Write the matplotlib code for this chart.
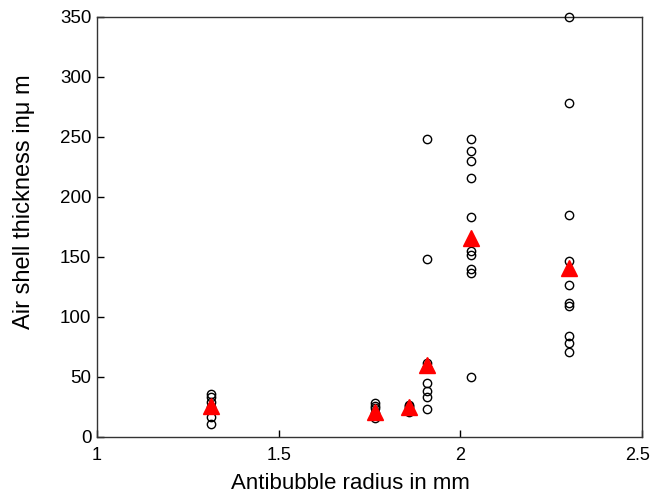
import matplotlib
matplotlib.use('Agg')
from matplotlib import pyplot as plt
from matplotlib import transforms

plt.rcParams['font.family'] = ['Liberation Sans', 'DejaVu Sans']

# radius of each antibubble group (mm)
radius = [1.315, 1.766, 1.858, 1.908, 2.030, 2.30]

# individual thickness measurements per group (um)
thick_132 = [36, 33, 29, 25, 17, 11]
thick_178 = [28, 26, 24, 20, 18, 16]
thick_187 = [27, 26, 24, 22, 21]
thick_1915 = [248, 148, 62, 58, 45, 38, 33, 23]
thick_2045 = [248, 238, 230, 216, 183, 155, 152, 140, 137, 50]
thick_232 = [350, 278, 185, 147, 127, 112, 109, 84, 78, 71]
groups = [thick_132, thick_178, thick_187, thick_1915, thick_2045, thick_232]

# average per group (red triangles)
avg_thick = [26, 21, 25, 60, 166, 141]

fig = plt.figure(figsize=(6.53, 4.98), dpi=100)
ax = fig.add_axes([0.1485, 0.1225, 0.8345, 0.8435])

for r, vals in zip(radius, groups):
    ax.plot([r] * len(vals), vals, linestyle='none', marker='o', markersize=6,
            markerfacecolor='none', markeredgecolor='black', markeredgewidth=1,
            clip_on=False, zorder=3)

ax.plot(radius, avg_thick, linestyle='none', marker='^', markersize=11,
        color='red', markeredgecolor='red', zorder=4)

ax.set_xlim(1, 2.5)
ax.set_ylim(0, 350)
ax.set_xticks([1, 1.5, 2, 2.5])
ax.set_xticklabels(['1', '1.5', '2', '2.5'])
ax.set_yticks(range(0, 351, 50))
ax.tick_params(direction='in', labelsize=13.5, length=5, width=1, top=False, right=False)
ax.tick_params(axis='x', pad=7, labelsize=13)
ax.tick_params(axis='y', pad=4)
for s in ax.spines.values():
    s.set_linewidth(1)
    s.set_color('#333333')

# keep the last x tick label inside the figure
last = ax.get_xticklabels()[-1]
last.set_transform(last.get_transform() + transforms.ScaledTranslation(-4 / 100, 0, fig.dpi_scale_trans))

ax.set_xlabel('Antibubble radius in mm', fontsize=16)
ax.set_ylabel('Air shell thickness inμ m', fontsize=17)
ax.xaxis.set_label_coords(0.466, -0.085)
ax.yaxis.set_label_coords(-0.113, 0.56)

fig.savefig('out.png', dpi=100)
